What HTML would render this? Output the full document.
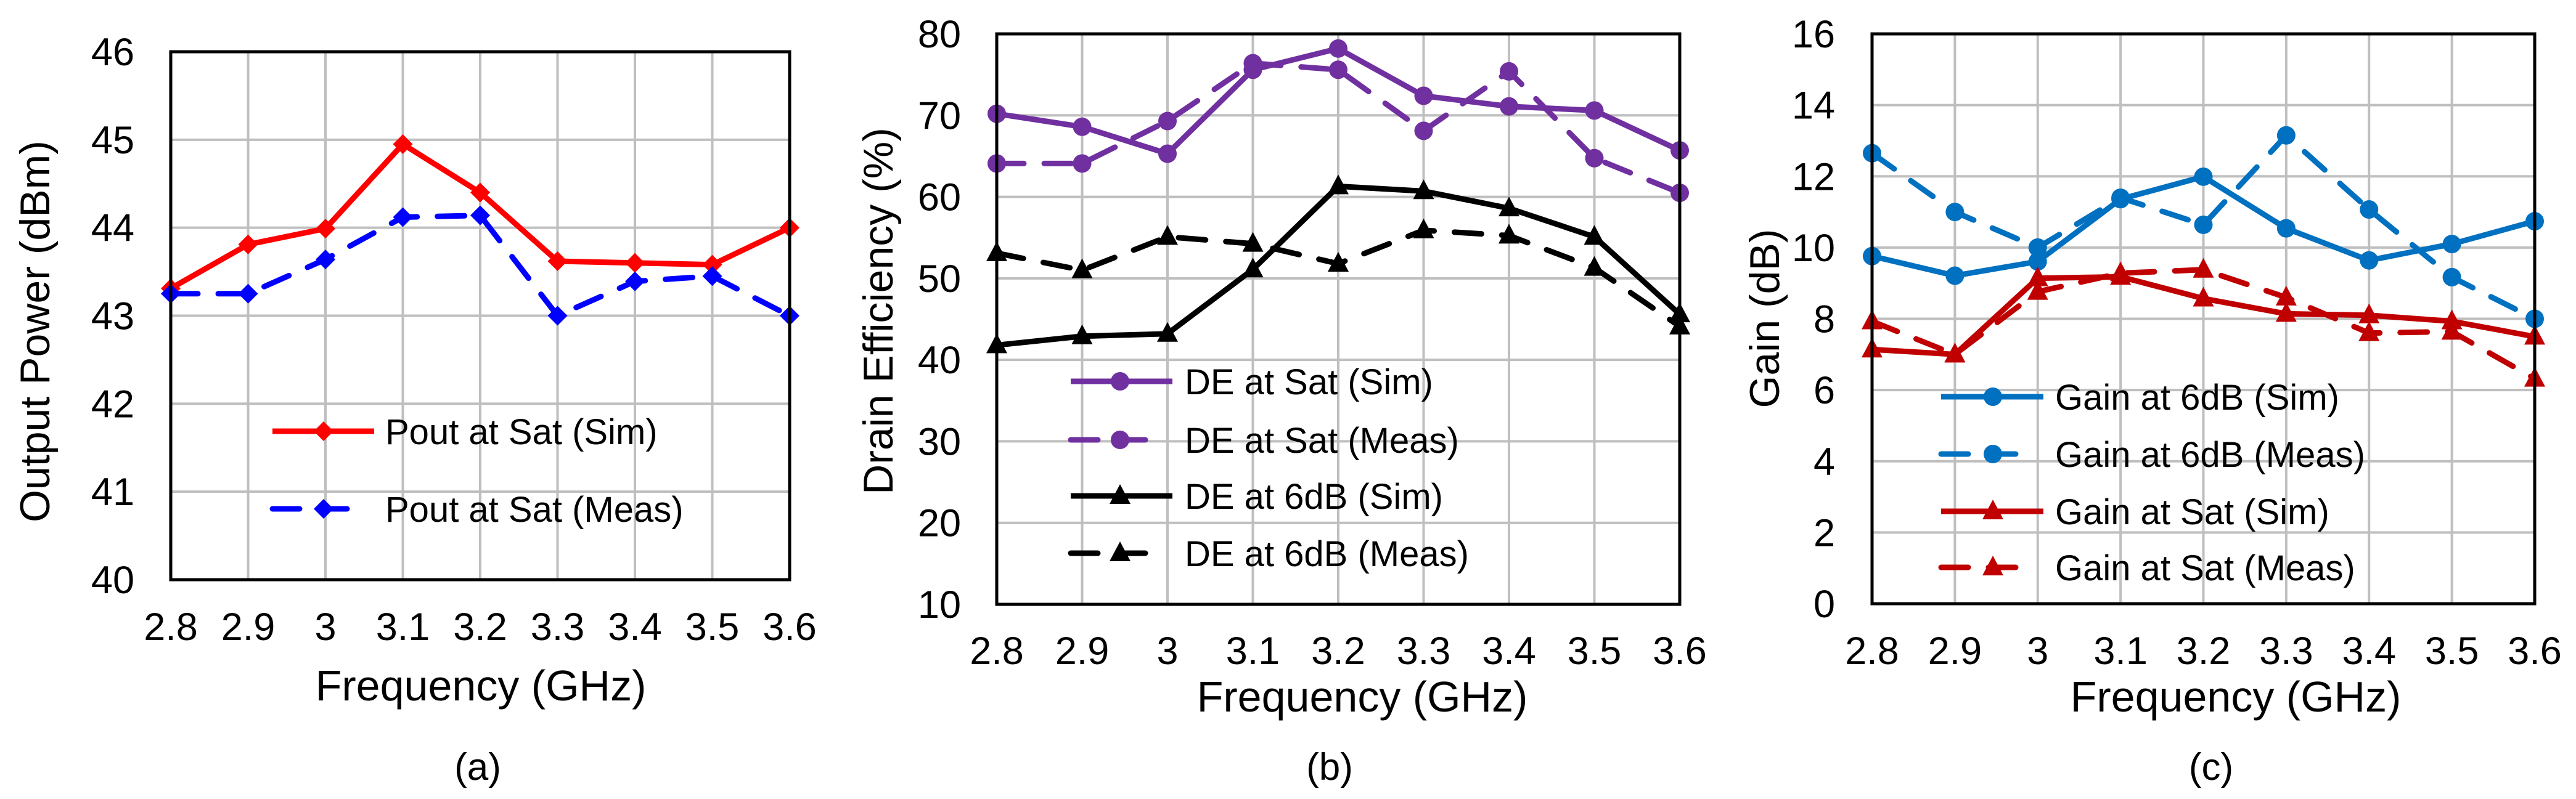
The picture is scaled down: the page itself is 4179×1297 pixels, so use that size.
<!DOCTYPE html>
<html><head><meta charset="utf-8"><style>
html,body{margin:0;padding:0;background:#fff;}
svg{display:block;font-family:"Liberation Sans",Arial,sans-serif;}
</style></head><body>
<svg id="fig" width="4179" height="1297" viewBox="0 0 4179 1297" xmlns="http://www.w3.org/2000/svg"></svg>
<script>
const freqs = [2.8,2.9,3.0,3.1,3.2,3.3,3.4,3.5,3.6];
const freqLabels = ["2.8","2.9","3","3.1","3.2","3.3","3.4","3.5","3.6"];
const poutSim = [43.31,43.81,43.99,44.95,44.40,43.62,43.60,43.58,44.0];
const poutMeas = [43.25,43.25,43.64,44.12,44.14,43.0,43.39,43.45,43.0];
const deSatSim = [70.2,68.6,65.3,75.6,78.2,72.4,71.1,70.6,65.7];
const deSatMeas = [64.1,64.1,69.3,76.4,75.6,68.1,75.4,64.75,60.5];
const de6Sim = [41.8,42.9,43.2,51.1,61.3,60.7,58.6,55.1,45.6];
const de6Meas = [53.1,51.0,55.1,54.25,51.8,55.9,55.25,51.3,44.1];
const g6Sim = [9.76,9.21,9.61,11.36,11.99,10.54,9.64,10.1,10.74];
const g6Meas = [12.65,11.0,10.0,11.4,10.64,13.15,11.07,9.17,8.0];
const gSatSim = [7.14,7.0,9.14,9.18,8.57,8.14,8.1,7.93,7.5];
const gSatMeas = [7.93,7.0,8.76,9.28,9.38,8.6,7.6,7.64,6.32];
const ticksA = [40,41,42,43,44,45,46];
const ticksB = [10,20,30,40,50,60,70,80];
const ticksC = [0,2,4,6,8,10,12,14,16];

const NS="http://www.w3.org/2000/svg";
const svg=document.getElementById('fig');
function mk(tag,attrs,parent){const e=document.createElementNS(NS,tag);for(const k in attrs)e.setAttribute(k,attrs[k]);(parent||svg).appendChild(e);return e;}

function marker(g,type,x,y,color){
  let m;
  if(type==='diamond') m=mk('polygon',{points:`${x},${y-16} ${x+16},${y} ${x},${y+16} ${x-16},${y}`,fill:color},g);
  else if(type==='circle') m=mk('circle',{cx:x,cy:y,r:15,fill:color},g);
  else m=mk('polygon',{points:`${x},${y-19} ${x+17},${y+13} ${x-17},${y+13}`,fill:color},g);
  return m;
}

function chart(cfg){
  const g=mk('g',{});
  
  
  const {L,R,T,B,ymin,ymax}=cfg;
  const xs=f=>L+(f-freqs[0])/(freqs[freqs.length-1]-freqs[0])*(R-L);
  const ys=v=>B-(v-ymin)/(ymax-ymin)*(B-T);
  freqs.forEach((f,i)=>{ if(i>0&&i<freqs.length-1){const l=mk('line',{x1:xs(f),x2:xs(f),y1:T,y2:B,stroke:'#bfbfbf','stroke-width':4},g);
    
    }});
  cfg.ticks.forEach((t,i)=>{ if(i>0&&i<cfg.ticks.length-1){const l=mk('line',{x1:L,x2:R,y1:ys(t),y2:ys(t),stroke:'#bfbfbf','stroke-width':4},g);
    
    }});
  cfg.ticks.forEach(t=>{const tx=mk('text',{x:cfg.ytickX,y:ys(t)+22,'text-anchor':'end','font-size':63,fill:'#000'},g);tx.textContent=String(t);
    
    });
  freqs.forEach((f,i)=>{const tx=mk('text',{x:xs(f),y:cfg.xtickY,'text-anchor':'middle','font-size':63,fill:'#000'},g);tx.textContent=freqLabels[i];
    
    });
  cfg.series.forEach(s=>{
    const sg=mk('g',{},g);
    
    
    const pts=s.data.map((v,i)=>xs(freqs[i])+','+ys(v)).join(' ');
    const pl=mk('polyline',{points:pts,fill:'none',stroke:s.color,'stroke-width':9,'stroke-linejoin':'round','stroke-linecap':'round','stroke-dasharray':s.dash?'44 33':'none'},sg);
    
    
    s.data.forEach((v,i)=>{const m=marker(sg,s.marker,xs(freqs[i]),ys(v),s.color);
      
      });
  });
  const fr=mk('rect',{x:L,y:T,width:R-L,height:B-T,fill:'none',stroke:'#000','stroke-width':5},g);
  
  
  const lg=mk('g',{},g);
  
  
  cfg.series.forEach((s,i)=>{
    const y=cfg.legY[i];
    const e=mk('g',{},lg);
    
    
    mk('line',{x1:cfg.legX1,x2:s.dash?cfg.legX2-20:cfg.legX2,y1:y,y2:y,stroke:s.color,'stroke-width':9,'stroke-linecap':s.dash?'round':'butt','stroke-dasharray':s.dash?'44 33':'none'},e);
    marker(e,s.marker,cfg.legM,y,s.color);
    const tx=mk('text',{x:cfg.legT,y:y+21,'font-size':58,fill:'#000'},e);tx.textContent=s.label;
  });
  const yt=mk('text',{x:0,y:0,'text-anchor':'middle','font-size':68,fill:'#000',transform:`translate(${cfg.ytX},${cfg.ytY}) rotate(-90)`},g);
  yt.textContent=cfg.ytitle;
  
  
  const xt=mk('text',{x:cfg.xtX,y:cfg.xtY,'text-anchor':'middle','font-size':70,fill:'#000'},g);
  xt.textContent='Frequency (GHz)';
  
  
  const cp=mk('text',{x:cfg.capX,y:1266,'text-anchor':'middle','font-size':62,fill:'#000'},g);
  cp.textContent=cfg.cap;
  
  
}

chart({name:'chart-a-output-power',L:277,R:1281,T:84,B:941,ymin:40,ymax:46,ticks:ticksA,ytickX:218,xtickY:1039,
  ytitle:'Output Power (dBm)',ytX:80,ytY:538,xtX:780,xtY:1137,cap:'(a)',capX:775,
  legX1:442,legX2:607,legM:525,legT:625,legY:[700,826],
  series:[{name:'pout-sim',label:'Pout at Sat (Sim)',data:poutSim,color:'#ff0000',marker:'diamond',dash:false},
          {name:'pout-meas',label:'Pout at Sat (Meas)',data:poutMeas,color:'#0000ff',marker:'diamond',dash:true}]});

chart({name:'chart-b-drain-efficiency',L:1617,R:2725,T:55,B:981,ymin:10,ymax:80,ticks:ticksB,ytickX:1559,xtickY:1078,
  ytitle:'Drain Efficiency (%)',ytX:1448,ytY:505,xtX:2210,xtY:1155,cap:'(b)',capX:2157,
  legX1:1737,legX2:1902,legM:1817,legT:1922,legY:[619,714,805,898],
  series:[{name:'de-sat-sim',label:'DE at Sat (Sim)',data:deSatSim,color:'#7030a0',marker:'circle',dash:false},
          {name:'de-sat-meas',label:'DE at Sat (Meas)',data:deSatMeas,color:'#7030a0',marker:'circle',dash:true},
          {name:'de-6db-sim',label:'DE at 6dB (Sim)',data:de6Sim,color:'#000000',marker:'triangle',dash:false},
          {name:'de-6db-meas',label:'DE at 6dB (Meas)',data:de6Meas,color:'#000000',marker:'triangle',dash:true}]});

chart({name:'chart-c-gain',L:3037,R:4112,T:55,B:980,ymin:0,ymax:16,ticks:ticksC,ytickX:2977,xtickY:1078,
  ytitle:'Gain (dB)',ytX:2886,ytY:517,xtX:3627,xtY:1155,cap:'(c)',capX:3587,
  legX1:3149,legX2:3315,legM:3233,legT:3334,legY:[644,737,830,921],
  series:[{name:'gain-6db-sim',label:'Gain at 6dB (Sim)',data:g6Sim,color:'#0070c0',marker:'circle',dash:false},
          {name:'gain-6db-meas',label:'Gain at 6dB (Meas)',data:g6Meas,color:'#0070c0',marker:'circle',dash:true},
          {name:'gain-sat-sim',label:'Gain at Sat (Sim)',data:gSatSim,color:'#c00000',marker:'triangle',dash:false},
          {name:'gain-sat-meas',label:'Gain at Sat (Meas)',data:gSatMeas,color:'#c00000',marker:'triangle',dash:true}]});
</script>
</body></html>
